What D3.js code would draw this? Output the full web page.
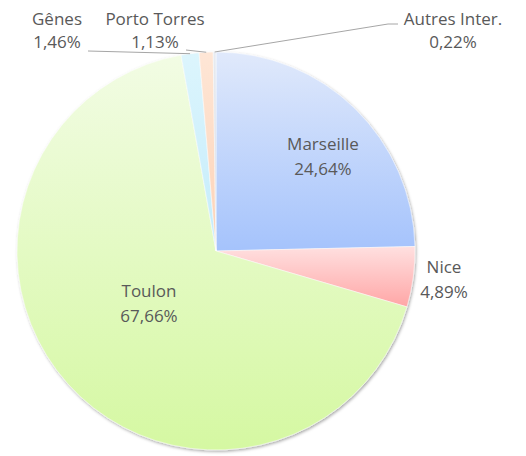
<!DOCTYPE html>
<html>
<head>
<meta charset="utf-8">
<script src="https://cdn.jsdelivr.net/npm/d3@7"></script>
<style>
  body { margin: 0; background: #fff; }
  text { font-family: "Open Sans", "Noto Sans", sans-serif; fill: #595959; }
</style>
</head>
<body>
<div id="chart"></div>
<script>
// data (percent shares)
const ports = ["Marseille", "Nice", "Toulon", "Gênes", "Porto Torres", "Autres Inter."];
const shares = [24.64, 4.89, 67.66, 1.46, 1.13, 0.22];
const shareLabels = ["24,64%", "4,89%", "67,66%", "1,46%", "1,13%", "0,22%"];

// gradient top / bottom colours per slice
const topColors = ["#e0e9fb", "#ffe0e0", "#f2fce4", "#dcf5fd", "#fee6d6", "#e8ecf2"];
const bottomColors = ["#a5c3fc", "#ffa6a6", "#d5f8a2", "#c4ecfb", "#fcd2b6", "#c8d0dc"];

const W = 526, H = 456;
const cx = 216, cy = 251, R = 199;

const svg = d3.select("#chart").append("svg")
    .attr("width", W)
    .attr("height", H);

const defs = svg.append("defs");

// soft shadow on the pie edge
const shadow = defs.append("filter")
    .attr("id", "shadow")
    .attr("x", "-10%").attr("y", "-10%")
    .attr("width", "120%").attr("height", "120%");
shadow.append("feDropShadow")
    .attr("dx", 1).attr("dy", 1.5)
    .attr("stdDeviation", 1.5)
    .attr("flood-color", "#000")
    .attr("flood-opacity", 0.35);

ports.forEach((p, i) => {
    const g = defs.append("linearGradient")
        .attr("id", "grad" + i)
        .attr("x1", 0).attr("y1", 0)
        .attr("x2", 0).attr("y2", 1);
    g.append("stop").attr("offset", "0%").attr("stop-color", topColors[i]);
    g.append("stop").attr("offset", "100%").attr("stop-color", bottomColors[i]);
});

const pieData = d3.pie().sort(null).value(d => d)(shares);

const arc = d3.arc().innerRadius(0).outerRadius(R);
const edgeArc = d3.arc().innerRadius(R).outerRadius(R);

const pieG = svg.append("g")
    .attr("transform", `translate(${cx},${cy})`);

pieG.append("g")
    .attr("filter", "url(#shadow)")
    .selectAll("path")
    .data(pieData)
    .enter()
    .append("path")
    .attr("d", arc)
    .attr("fill", (d, i) => `url(#grad${i})`)
    .attr("stroke", "#fff")
    .attr("stroke-width", 0.5);

// label layout (absolute page coords): centre x, first baseline y
const labelPos = [
    { x: 323, y: 150 },
    { x: 444, y: 273 },
    { x: 149, y: 297 },
    { x: 57, y: 25 },
    { x: 155, y: 25 },
    { x: 453, y: 25 }
];
const lineGap = 25;

const labels = svg.append("g");
ports.forEach((p, i) => {
    const t = labels.append("text")
        .attr("text-anchor", "middle")
        .attr("font-size", 17);
    t.append("tspan").attr("x", labelPos[i].x).attr("y", labelPos[i].y).text(p);
    t.append("tspan").attr("x", labelPos[i].x).attr("y", labelPos[i].y + lineGap - (i >= 3 ? 2 : 0)).text(shareLabels[i]);
});

// leader lines for the small slices
const edge = i => {
    const c = edgeArc.centroid(pieData[i]);
    return [cx + c[0], cy + c[1]];
};
const leaders = [
    [[88, 51], edge(3)],
    [[186, 50], edge(4)],
    [[398, 24], [388, 24], edge(5)]
];
svg.append("g")
    .selectAll("path")
    .data(leaders)
    .enter()
    .append("path")
    .attr("d", d3.line())
    .attr("fill", "none")
    .attr("stroke", "#a6a6a6")
    .attr("stroke-width", 1);
</script>
</body>
</html>
